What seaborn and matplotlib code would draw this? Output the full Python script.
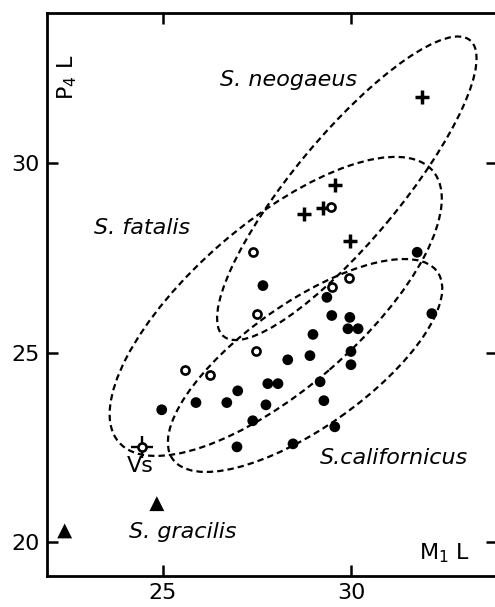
import matplotlib
matplotlib.use("Agg")
import matplotlib.pyplot as plt
import pandas as pd
import seaborn as sns
from matplotlib.patches import Ellipse

# M1 L (x) and P4 L (y)
californicus_m1 = [27.66, 31.76, 29.36, 29.49, 29.97, 29.92, 30.19, 28.99, 28.91, 30.00, 30.00, 28.32, 27.79,
                   28.06, 29.18, 26.99, 26.70, 25.88, 24.97, 27.74, 29.28, 27.39, 26.97, 28.46, 29.57, 32.15]
californicus_p4 = [26.77, 27.65, 26.46, 25.98, 25.93, 25.63, 25.63, 25.48, 24.92, 25.03, 24.68, 24.81, 24.18,
                   24.18, 24.23, 23.99, 23.68, 23.68, 23.49, 23.62, 23.73, 23.20, 22.51, 22.59, 23.04, 26.03]
fatalis_m1 = [29.47, 27.39, 27.50, 27.47, 25.59, 26.25, 29.95, 29.49]
fatalis_p4 = [28.84, 27.67, 26.03, 25.03, 24.55, 24.42, 26.98, 26.72]
neogaeus_m1 = [31.89, 29.57, 28.75, 29.26, 29.97]
neogaeus_p4 = [31.75, 29.42, 28.65, 28.81, 27.96]
gracilis_m1 = [22.39, 24.84]
gracilis_p4 = [20.29, 21.01]
vs_m1 = [24.44]
vs_p4 = [22.51]

# dashed range ellipses: centre x, centre y, width, height, angle
ellipse_names = ["neogaeus", "fatalis", "californicus"]
ellipse_cx = [29.89, 28.0, 28.78]
ellipse_cy = [29.34, 26.22, 24.66]
ellipse_w = [10.2, 11.0, 8.6]
ellipse_h = [2.8, 4.4, 3.3]
ellipse_angle = [50.0, 40.6, 35.0]

species_labels = ["S. neogaeus", "S. fatalis", "S.californicus", "S. gracilis"]
label_x = [28.35, 24.44, 31.14, 25.53]
label_y = [32.20, 28.28, 22.22, 20.26]

x_ticks = [25, 30]
y_ticks = [20, 25, 30]

sns.set_style("white")
plt.rcParams["font.family"] = ["DejaVu Sans"]
plt.rcParams["text.color"] = "black"
plt.rcParams["lines.scale_dashes"] = False

fig = plt.figure(figsize=(4.95, 6.07), dpi=100)
ax = fig.add_axes([0.0949, 0.0511, 0.909, 0.9275])

for cx, cy, w, h, ang in zip(ellipse_cx, ellipse_cy, ellipse_w, ellipse_h, ellipse_angle):
    ax.add_patch(Ellipse((cx, cy), w, h, angle=ang, fill=False, edgecolor="black",
                         linewidth=1.6, linestyle=(0, (4.6, 2.9)), zorder=1))

cal = pd.DataFrame({"m1": californicus_m1, "p4": californicus_p4})
fat = pd.DataFrame({"m1": fatalis_m1, "p4": fatalis_p4})
neo = pd.DataFrame({"m1": neogaeus_m1, "p4": neogaeus_p4})
gra = pd.DataFrame({"m1": gracilis_m1, "p4": gracilis_p4})
vs = pd.DataFrame({"m1": vs_m1, "p4": vs_p4})

sns.scatterplot(data=neo, x="m1", y="p4", marker="+", s=115, color="black", linewidth=2.5, ax=ax, zorder=3)
sns.scatterplot(data=cal, x="m1", y="p4", marker="o", s=60, color="black", edgecolor="none", ax=ax, zorder=3)
sns.scatterplot(data=fat, x="m1", y="p4", marker="o", s=34, facecolor="white", edgecolor="black",
                linewidth=1.9, ax=ax, zorder=4)
sns.scatterplot(data=gra, x="m1", y="p4", marker="^", s=115, color="black", edgecolor="none", ax=ax, zorder=3)
sns.scatterplot(data=vs, x="m1", y="p4", marker="+", s=260, color="black", linewidth=1.7, ax=ax, zorder=3)
sns.scatterplot(data=vs, x="m1", y="p4", marker="o", s=34, facecolor="white", edgecolor="black",
                linewidth=1.9, ax=ax, zorder=4)

for text, lx, ly in zip(species_labels, label_x, label_y):
    ax.text(lx, ly, text, fontsize=16, fontstyle="italic", ha="center", va="center", zorder=5)
ax.text(24.39, 22.01, "Vs", fontsize=16, ha="center", va="center", zorder=5)

ax.text(0.044, 0.886, "P$_4$ L", transform=ax.transAxes, rotation=90, fontsize=16, ha="center", va="center")
ax.text(0.884, 0.041, "M$_1$ L", transform=ax.transAxes, fontsize=16, ha="center", va="center")

ax.set_xlim(21.92, 33.88)
ax.set_ylim(19.10, 33.97)
ax.set_xticks(x_ticks)
ax.set_yticks(y_ticks)
ax.set_xlabel("")
ax.set_ylabel("")
ax.tick_params(direction="in", length=8, width=1.8, labelsize=16, pad=5,
               top=True, right=True, bottom=True, left=True, colors="black")
for side in ["left", "bottom", "top", "right"]:
    ax.spines[side].set_color("black")
    ax.spines[side].set_linewidth(2)

fig.savefig("out.png", dpi=100)
